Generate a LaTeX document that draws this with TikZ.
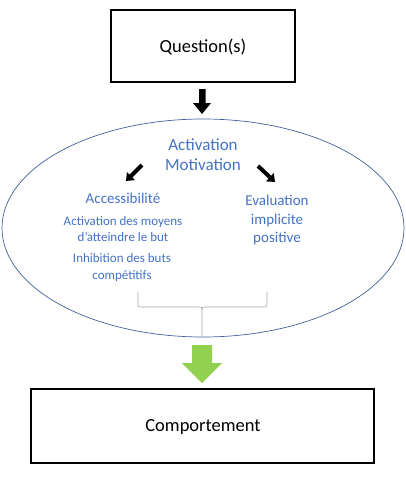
\documentclass[tikz,border=0pt]{standalone}
\usetikzlibrary{shapes.geometric,arrows.meta}
\usepackage{fontspec}
\setmainfont{Carlito}
\definecolor{txtblue}{HTML}{4472C4}
\definecolor{ellblue}{HTML}{44609A}
\definecolor{arrgreen}{HTML}{92D050}
\begin{document}
\begin{tikzpicture}[x=1pt,y=-1pt,
  boxst/.style={draw=black,line width=1.6pt,inner sep=0pt},
  bluetxt/.style={text=txtblue,align=center,inner sep=0pt},
  blacktxt/.style={text=black,inner sep=0pt},
  diagarrow/.style={black,line width=4pt,-{Triangle[width=11pt,length=7pt]}}]
\useasboundingbox (0,0) rectangle (405,479);
% top box
\node[boxst,minimum width=184pt,minimum height=72pt] (q) at (203,46) {};
\node[blacktxt,font=\fontsize{18.5}{20}\selectfont] (qt) at (203,47) {Question(s)};
% black down arrow
\fill[black] (199,89) -- (205.5,89) -- (205.5,103) -- (211,103) -- (202,114) -- (193,103) -- (199,103) -- cycle;
% ellipse
\node[draw=ellblue,line width=0.7pt,ellipse,minimum width=402pt,minimum height=218pt] (ell) at (203,228) {};
% texts
\node[bluetxt,font=\fontsize{17}{19}\selectfont] (act) at (203,145) {Activation};
\node[bluetxt,font=\fontsize{17}{19}\selectfont] (mot) at (203,165) {Motivation};
\node[bluetxt,font=\fontsize{15}{17}\selectfont] (acc) at (123,198) {Accessibilité};
\node[bluetxt,font=\fontsize{13}{16}\selectfont] (moy) at (123,229) {Activation des moyens\\d'atteindre le but};
\node[bluetxt,font=\fontsize{13}{17}\selectfont] (inh) at (122,268) {Inhibition des buts\\compétitifs};
\node[bluetxt,font=\fontsize{15}{18.5}\selectfont] (eva) at (277,220) {Evaluation\\implicite\\positive};
% small diagonal arrows
\coordinate (la1) at (142,165);
\coordinate (la2) at (126,181);
\coordinate (ra1) at (258,166);
\coordinate (ra2) at (275,182);
\draw[diagarrow] (la1) -- (la2);
\draw[diagarrow] (ra1) -- (ra2);
% brace
\draw[gray!70,line width=0.6pt] (138,292) -- (138,304) .. controls (138,307) .. (141,307) -- (199,307) .. controls (202,307) .. (202,310) -- (202,336);
\draw[gray!70,line width=0.6pt] (267,292) -- (267,304) .. controls (267,307) .. (264,307) -- (205,307) .. controls (202,307) .. (202,310);
% green arrow
\fill[arrgreen] (192,345) -- (212,345) -- (212,363) -- (222,363) -- (202,383) -- (182,363) -- (192,363) -- cycle;
% bottom box
\node[boxst,minimum width=343pt,minimum height=74pt] (c) at (202.5,426) {};
\node[blacktxt,font=\fontsize{18.5}{20}\selectfont] (ct) at (203,427) {Comportement};
\end{tikzpicture}
\end{document}
